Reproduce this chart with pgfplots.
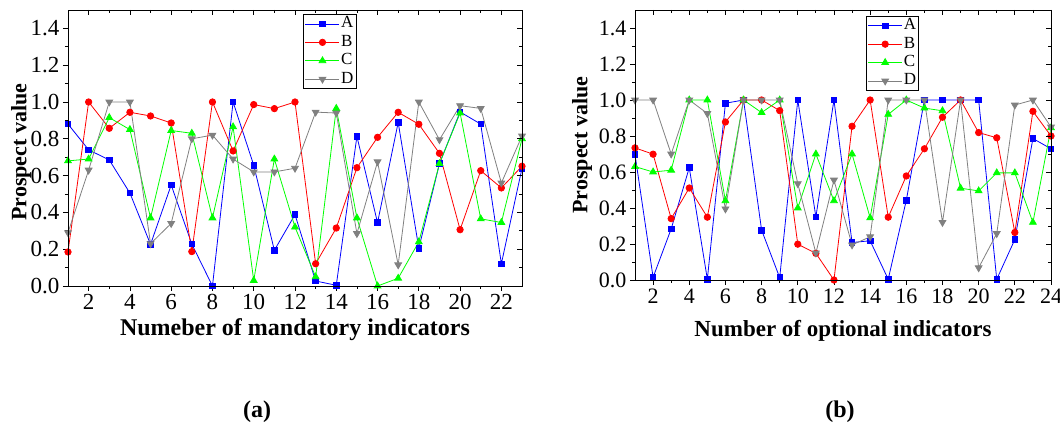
\documentclass[border=0pt]{standalone}
\usepackage{fontspec}
\setmainfont{Liberation Serif}
\usepackage{pgfplots}
\pgfplotsset{compat=1.18}
\definecolor{cA}{RGB}{0,0,255}
\definecolor{cB}{RGB}{255,0,0}
\definecolor{cC}{RGB}{0,255,0}
\definecolor{cD}{RGB}{128,128,128}
\pgfplotsset{
  panelbase/.style={
    scale only axis,
    ymin=0, ymax=1.5,
    ytick={0,0.2,0.4,0.6,0.8,1.0,1.2,1.4},
    minor x tick num=1, minor y tick num=1,
    major tick length=5pt, minor tick length=3pt,
    tick style={black, line width=0.8pt},
    axis line style={line width=0.8pt},
    /pgf/number format/assume math mode=true,
    yticklabel style={/pgf/number format/.cd, fixed, fixed zerofill, precision=1},
  },
  panel/.style={
    panelbase,
    tick align=outside, xtick pos=left, ytick pos=left,
    ylabel={Prospect value},
    ylabel style={font=\fontsize{22}{22}\selectfont\bfseries, anchor=center},
    legend style={draw=black, line width=0.8pt, font=\fontsize{17}{17}\selectfont,
      inner xsep=1.5pt, inner ysep=1pt, row sep=1pt,
      nodes={inner sep=1.2pt, text height=11.5pt, text depth=3.5pt},
      cells={anchor=west}},
    legend image code/.code={\draw[mark repeat=2,mark phase=2] plot coordinates {(0pt,0pt)(17pt,0pt)(34pt,0pt)};},
  },
  mirror/.style={
    panelbase,
    tick align=inside, xtick pos=right, ytick pos=right,
    xticklabels={}, yticklabels={},
  },
  sA/.style={color=cA, line width=0.8pt, mark=square*, mark size=2.8pt, mark options={solid}},
  sB/.style={color=cB, line width=0.8pt, mark=*, mark size=3.2pt},
  sC/.style={color=cC, line width=0.8pt, mark=triangle*, mark size=3.9pt},
  sD/.style={color=cD, line width=0.8pt, mark=triangle*, mark size=3.9pt, mark options={rotate=180}},
}
\begin{document}
\begin{tikzpicture}
\path[use as bounding box] (0pt,0pt) rectangle (1060pt,425pt);
% ---------- (a)
\begin{axis}[panel, at={(68pt,139pt)}, anchor=south west, width=454pt, height=276pt,
  xmin=1, xmax=23, xtick={2,4,...,22},
  ticklabel style={font=\fontsize{23}{23}\selectfont},
  xlabel={Numeber of mandatory indicators},
  xlabel style={font=\fontsize{24}{24}\selectfont\bfseries, at={(axis description cs:0.5,-0.181)}, anchor=base},
  ylabel style={at={(axis description cs:-0.1035,0.485)}},
  legend style={at={(0.518,0.986)}, anchor=north west}]
\addplot[sA] coordinates {(1,0.88)(2,0.74)(3,0.685)(4,0.505)(5,0.226)(6,0.549)(7,0.228)(8,0.0)(9,1.0)(10,0.656)(11,0.194)(12,0.388)(13,0.027)(14,0.004)(15,0.813)(16,0.344)(17,0.889)(18,0.205)(19,0.665)(20,0.946)(21,0.880)(22,0.121)(23,0.64)};
\addplot[sB] coordinates {(1,0.185)(2,1.0)(3,0.857)(4,0.944)(5,0.924)(6,0.886)(7,0.187)(8,1.0)(9,0.734)(10,0.986)(11,0.964)(12,1.0)(13,0.121)(14,0.315)(15,0.643)(16,0.808)(17,0.944)(18,0.879)(19,0.721)(20,0.306)(21,0.627)(22,0.533)(23,0.651)};
\addplot[sC] coordinates {(1,0.68)(2,0.69)(3,0.915)(4,0.85)(5,0.37)(6,0.845)(7,0.83)(8,0.37)(9,0.865)(10,0.03)(11,0.69)(12,0.32)(13,0.05)(14,0.965)(15,0.37)(16,0.0)(17,0.042)(18,0.24)(19,0.665)(20,0.94)(21,0.365)(22,0.345)(23,0.80)};
\addplot[sD] coordinates {(1,0.29)(2,0.63)(3,1.0)(4,1.0)(5,0.23)(6,0.34)(7,0.80)(8,0.82)(9,0.69)(10,0.62)(11,0.62)(12,0.64)(13,0.945)(14,0.94)(15,0.285)(16,0.675)(17,0.115)(18,1.0)(19,0.795)(20,0.98)(21,0.965)(22,0.56)(23,0.815)};
\legend{A,B,C,D}
\end{axis}
\begin{axis}[mirror, at={(68pt,139pt)}, anchor=south west, width=454pt, height=276pt,
  xmin=1, xmax=23, xtick={2,4,...,22}]
\end{axis}
% ---------- (b)
\begin{axis}[panel, at={(635pt,145pt)}, anchor=south west, width=416pt, height=270pt,
  xmin=1, xmax=24, xtick={2,4,...,24},
  ticklabel style={font=\fontsize{22}{22}\selectfont},
  xlabel={Number of optional indicators},
  xlabel style={font=\fontsize{23}{23}\selectfont\bfseries, at={(axis description cs:0.5,-0.211)}, anchor=base},
  ylabel style={at={(axis description cs:-0.1274,0.5)}},
  legend style={at={(0.555,0.979)}, anchor=north west}]
\addplot[sA] coordinates {(1,0.697)(2,0.015)(3,0.284)(4,0.624)(5,0.004)(6,0.982)(7,1.0)(8,0.277)(9,0.013)(10,1.0)(11,0.351)(12,1.0)(13,0.208)(14,0.218)(15,0.004)(16,0.443)(17,1.0)(18,1.0)(19,1.0)(20,1.0)(21,0.004)(22,0.225)(23,0.786)(24,0.729)};
\addplot[sB] coordinates {(1,0.734)(2,0.699)(3,0.341)(4,0.511)(5,0.349)(6,0.878)(7,1.0)(8,1.0)(9,0.941)(10,0.199)(11,0.148)(12,0.0)(13,0.854)(14,1.0)(15,0.349)(16,0.578)(17,0.729)(18,0.904)(19,1.0)(20,0.819)(21,0.790)(22,0.264)(23,0.937)(24,0.80)};
\addplot[sC] coordinates {(1,0.63)(2,0.60)(3,0.61)(4,1.0)(5,1.0)(6,0.44)(7,1.0)(8,0.93)(9,1.0)(10,0.40)(11,0.70)(12,0.44)(13,0.70)(14,0.345)(15,0.92)(16,1.0)(17,0.955)(18,0.94)(19,0.51)(20,0.495)(21,0.595)(22,0.595)(23,0.32)(24,0.845)};
\addplot[sD] coordinates {(1,1.0)(2,1.0)(3,0.70)(4,1.0)(5,0.925)(6,0.395)(7,1.0)(8,1.0)(9,1.0)(10,0.535)(11,0.15)(12,0.555)(13,0.195)(14,0.24)(15,1.0)(16,1.0)(17,1.0)(18,0.32)(19,1.0)(20,0.068)(21,0.258)(22,0.972)(23,1.0)(24,0.85)};
\legend{A,B,C,D}
\end{axis}
\begin{axis}[mirror, at={(635pt,145pt)}, anchor=south west, width=416pt, height=270pt,
  xmin=1, xmax=24, xtick={2,4,...,24}]
\end{axis}
\node[font=\fontsize{24}{24}\selectfont\bfseries] at (257pt,13pt) {(a)};
\node[font=\fontsize{24}{24}\selectfont\bfseries] at (840pt,13pt) {(b)};
\end{tikzpicture}
\end{document}
